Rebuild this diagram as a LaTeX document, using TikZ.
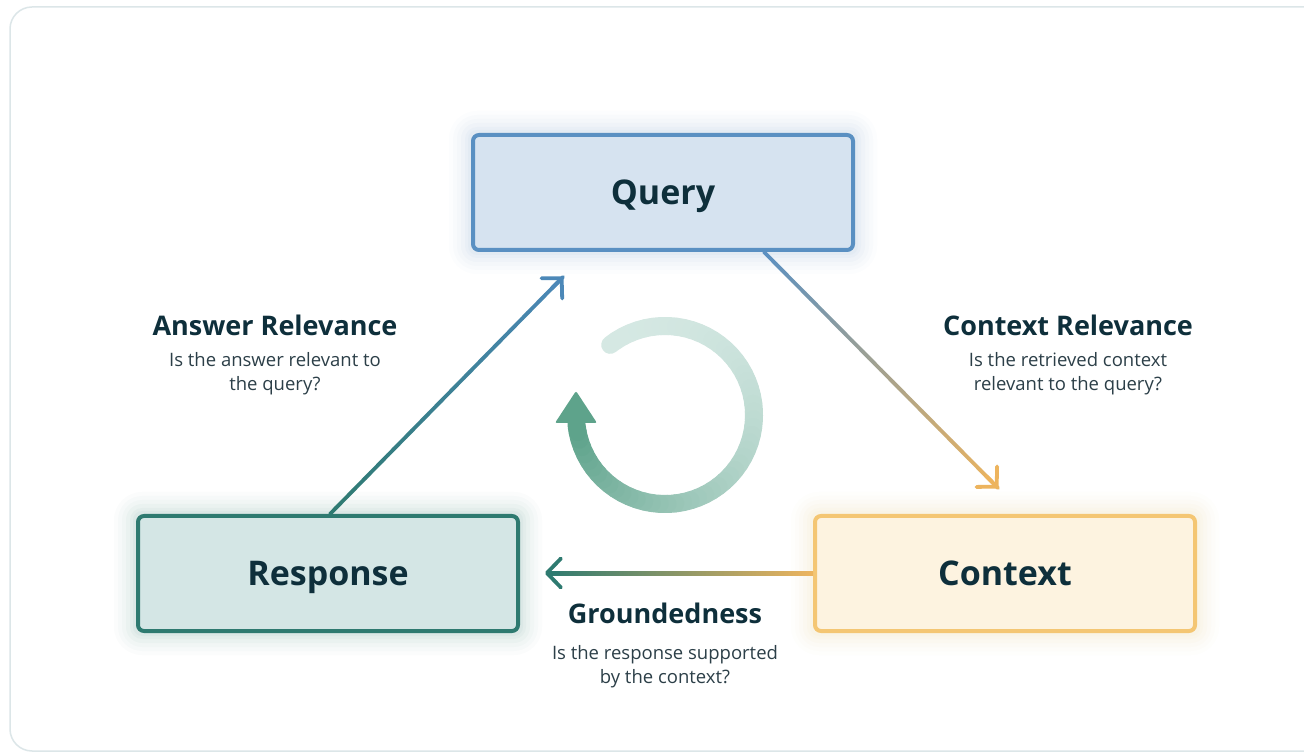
\documentclass[tikz,border=0pt]{standalone}
\usepackage{fontspec}
\setmainfont{Open Sans}
\usetikzlibrary{arrows.meta,calc,backgrounds}
\definecolor{ink}{HTML}{0E2F3B}
\definecolor{subink}{HTML}{2C3F48}
\definecolor{qfill}{HTML}{D6E3F0}
\definecolor{qline}{HTML}{5A90C2}
\definecolor{rfill}{HTML}{D4E6E5}
\definecolor{rline}{HTML}{2E7A70}
\definecolor{cfill}{HTML}{FDF3E0}
\definecolor{cline}{HTML}{F4C673}
\definecolor{cdark}{HTML}{EDB45E}
\definecolor{framec}{HTML}{DCE6E8}
\definecolor{arcA}{HTML}{D5E8E3}
\definecolor{arcB}{HTML}{5EA38B}
\definecolor{blueA}{HTML}{4C88B8}
\tikzset{
  box/.style={rectangle, rounded corners=6pt, line width=4pt, minimum width=380pt, minimum height=115pt, inner sep=0pt, text depth=0pt, text=ink, font=\fontsize{34}{40}\selectfont\bfseries},
  ttl/.style={text=ink, font=\fontsize{27}{32}\selectfont\bfseries, inner sep=0pt},
  dsc/.style={text=subink, font=\fontsize{18.5}{24}\selectfont, align=center, inner sep=0pt},
  seg/.style={line width=3.8pt, line cap=round},
  tip/.style={line width=3.8pt, line cap=round, line join=round, -{Straight Barb[length=14pt,width=29pt,line cap=round,line join=round]}}
}
\begin{document}
\begin{tikzpicture}[x=1pt,y=1pt]
\useasboundingbox (0,0) rectangle (1304,753);

% boxes
\node[box, fill=qfill, draw=qline] (query) at (663,560.5) {Query};
\node[box, fill=rfill, draw=rline] (response) at (328,179.5) {Response};
\node[box, fill=cfill, draw=cline] (context) at (1005,179.5) {Context};

\begin{scope}[on background layer]
  \fill[white] (0,0) rectangle (1304,753);
  \draw[framec, line width=1.5pt, rounded corners=22pt] (10,2) rectangle (1330,746);
  \foreach \g/\o in {22/0.015,18/0.02,14/0.025,10/0.03,6/0.035,3/0.04}{
    \fill[qline, opacity=\o, rounded corners={6+\g}] ($(query.south west)+(-\g,-\g)$) rectangle ($(query.north east)+(\g,\g)$);
    \fill[rline, opacity=\o, rounded corners={6+\g}] ($(response.south west)+(-\g,-\g)$) rectangle ($(response.north east)+(\g,\g)$);
    \fill[cline, opacity=\o, rounded corners={6+\g}] ($(context.south west)+(-\g,-\g)$) rectangle ($(context.north east)+(\g,\g)$);
  }
\end{scope}

% connector end points
\coordinate (qc1) at ($(query.south)+(101,0)$);
\coordinate (qc2) at ($(context.north)+(-7,26)$);
\coordinate (cr1) at ($(context.west)+(0,0.5)$);
\coordinate (cr2) at ($(response.east)+(25,0.5)$);
\coordinate (rq1) at ($(response.north)+(2,0)$);
\coordinate (rq2) at ($(query.south west)+(92,-25)$);

% Query -> Context (blue to orange)
\foreach \i in {0,...,39}{
  \pgfmathsetmacro\p{100*(\i+0.5)/40}
  \draw[seg, color=cdark!\p!qline] ($(qc1)!{\i/40}!(qc2)$) -- ($(qc1)!{(\i+1)/40}!(qc2)$);
}
\draw[tip, cdark] ($(qc1)!0.95!(qc2)$) -- (qc2);

% Context -> Response (orange to teal), shaded bar
\shade[left color=rline, right color=cdark] ($(cr2)+(3,-2)$) rectangle ($(cr1)+(0,2)$);
\draw[tip, rline] ($(cr1)!0.95!(cr2)$) -- (cr2);

% Response -> Query (teal to blue)
\foreach \i in {0,...,39}{
  \pgfmathsetmacro\p{100*(\i+0.5)/40}
  \draw[seg, color=blueA!\p!rline] ($(rq1)!{\i/40}!(rq2)$) -- ($(rq1)!{(\i+1)/40}!(rq2)$);
}
\draw[tip, blueA] ($(rq1)!0.95!(rq2)$) -- (rq2);

% labels
\node[ttl] (artitle) at (275,428) {Answer Relevance};
\node[dsc] (ardesc) at (275,379) {Is the answer relevant to\\the query?};
\node[ttl] (crtitle) at (1068,428) {Context Relevance};
\node[dsc] (crdesc) at (1068,379) {Is the retrieved context\\relevant to the query?};
\node[ttl] (grtitle) at (665,140) {Groundedness};
\node[dsc] (grdesc) at (665,86) {Is the response supported\\by the context?};

% cycle arrow
\coordinate (cyc) at (665,338);
\foreach \i in {0,...,59}{
  \pgfmathsetmacro\p{100*(\i/59)*(\i/59)}
  \pgfmathsetmacro\aa{128-5.03333*\i}
  \pgfmathsetmacro\bb{128-5.03333*(\i+1)}
  \draw[line width=18pt, line cap=round, color=arcB!\p!arcA] ($(cyc)+(\aa:89)$) arc[start angle=\aa, end angle=\bb, radius=89pt];
}
\fill[arcB, rounded corners=2pt] (555,330) -- (597,330) -- (576,362) -- cycle;
\end{tikzpicture}
\end{document}
